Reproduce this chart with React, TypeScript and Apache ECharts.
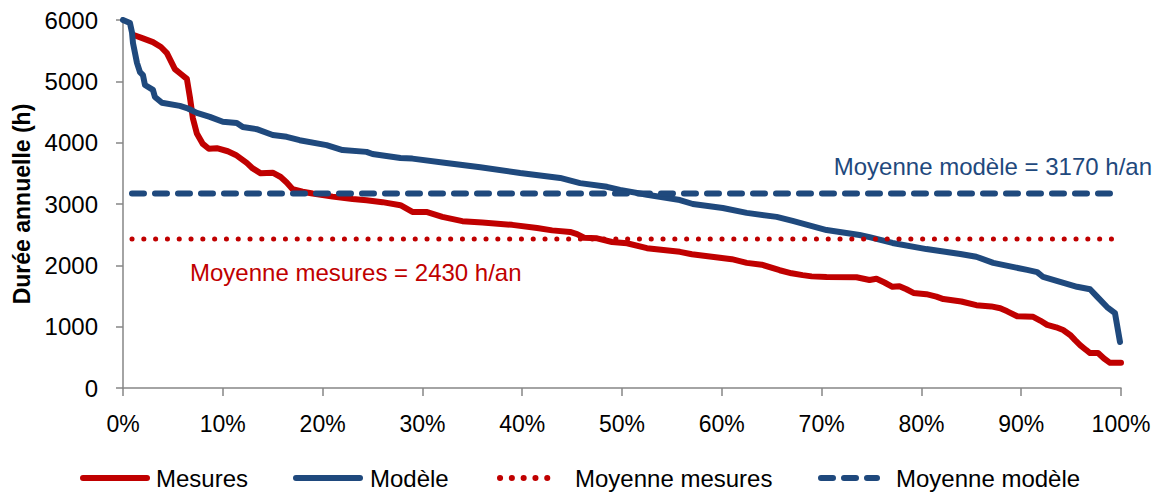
import React, { useEffect, useRef } from "react";
import * as echarts from "echarts";

const FONT = "Liberation Sans";
const RED = "#C00000";
const BLUE = "#1F497D";

const xTicks = [0, 10, 20, 30, 40, 50, 60, 70, 80, 90, 100];

const mesuresX = [1, 2, 3, 3.8, 4.4, 5.2, 5.8, 6.4, 6.7, 7.0, 7.4, 8.0, 8.6, 9.4, 10.5, 11.3, 12.4, 13.0, 13.8, 15, 15.8, 16.4, 17.0, 18.0, 19, 21, 23, 24.4, 26, 27.8, 29, 30.4, 32, 34, 36, 39, 41.5, 43, 44.8, 45.5, 46.2, 47.5, 49, 50.5, 52.5, 55.8, 57, 59, 61, 62.5, 64, 65.8, 67, 68.1, 69, 70.5, 73.5, 74.8, 75.5, 76.3, 77.1, 77.8, 78.5, 79.2, 80.5, 81.5, 82.2, 84, 85.5, 87, 87.9, 88.6, 89.6, 91.2, 91.9, 92.6, 93.5, 94.2, 94.9, 95.4, 95.9, 96.5, 96.9, 97.7, 98.3, 98.9, 100];
const mesuresY = [5760, 5700, 5640, 5560, 5460, 5200, 5120, 5040, 4745, 4400, 4150, 3980, 3900, 3910, 3860, 3800, 3670, 3580, 3500, 3510, 3440, 3350, 3240, 3200, 3170, 3120, 3080, 3060, 3030, 2980, 2870, 2870, 2790, 2720, 2700, 2660, 2610, 2570, 2545, 2510, 2450, 2440, 2380, 2360, 2280, 2220, 2180, 2140, 2100, 2040, 2010, 1920, 1870, 1840, 1820, 1810, 1805, 1760, 1780, 1720, 1650, 1660, 1610, 1550, 1530, 1490, 1450, 1410, 1350, 1330, 1300, 1250, 1170, 1160, 1100, 1030, 990, 945, 865, 780, 700, 620, 570, 570, 480, 410, 410];

const modeleX = [0, 0.7, 0.9, 1.0, 1.4, 1.7, 2.0, 2.2, 3.0, 3.2, 3.9, 5.7, 6.4, 7.4, 8.7, 10, 11.4, 12, 13.4, 15, 16.4, 17.7, 20.4, 22, 24.4, 25, 27.8, 29, 32.4, 35.8, 39.8, 43.8, 45.8, 48.5, 49.8, 52.5, 55.8, 57.1, 60.1, 62.5, 65.5, 67.1, 70.5, 73.8, 74.8, 77.1, 80.5, 83.9, 85.5, 87.2, 90.6, 91.6, 92.2, 93.9, 95.6, 96.9, 97.6, 98.6, 99.4, 99.9];
const modeleY = [6000, 5950, 5800, 5625, 5300, 5150, 5100, 4940, 4860, 4745, 4650, 4600, 4565, 4485, 4420, 4340, 4320, 4255, 4220, 4125, 4095, 4040, 3960, 3880, 3850, 3815, 3750, 3740, 3670, 3600, 3505, 3425, 3340, 3280, 3230, 3150, 3065, 3000, 2935, 2855, 2790, 2725, 2575, 2495, 2460, 2365, 2265, 2185, 2140, 2040, 1925, 1890, 1810, 1730, 1650, 1610, 1490, 1320, 1220, 750];

const avgX = [0.9, 99.3];
const moyenneMesures = 2430;
const moyenneModele = 3170;

const zip = (xs: number[], ys: number[]) => xs.map((x, i) => [x, ys[i]]);

export default function App() {
  const ref = useRef<HTMLDivElement>(null);
  useEffect(() => {
    if (!ref.current) return;
    const chart = echarts.init(ref.current, undefined, { renderer: "svg" });
    const legendText = (pad: number) => ({
      fontFamily: FONT,
      fontSize: 24,
      lineHeight: 24,
      color: "#000",
      padding: [0, 0, 0, pad],
    });
    const legendBase = {
      orient: "horizontal" as const,
      top: 466,
      itemHeight: 12,
      itemGap: 0,
      padding: 0,
      itemStyle: { opacity: 0 },
      lineStyle: { width: 6, cap: "round" },
    };
    chart.setOption({
      animation: false,
      textStyle: { fontFamily: FONT },
      grid: { left: 123, right: 40, top: 20, bottom: 104, containLabel: false, outerBoundsMode: "none" },
      xAxis: {
        type: "value",
        min: 0,
        max: 100,
        interval: 10,
        axisLine: { show: true, lineStyle: { color: "#868686", width: 1.5 } },
        axisTick: { show: true, length: 8, lineStyle: { color: "#868686", width: 1.5 } },
        splitLine: { show: false },
        axisLabel: {
          formatter: "{value}%",
          fontFamily: FONT,
          fontSize: 23,
          color: "#000",
          margin: 24,
          customValues: xTicks,
        },
      },
      yAxis: {
        type: "value",
        min: 0,
        max: 6000,
        interval: 1000,
        name: "Durée annuelle (h)",
        nameLocation: "middle",
        nameGap: 90,
        nameTextStyle: { fontFamily: FONT, fontSize: 23, fontWeight: "bold", color: "#000" },
        axisLine: { show: true, lineStyle: { color: "#868686", width: 1.5 } },
        axisTick: { show: true, length: 7, lineStyle: { color: "#868686", width: 1.5 } },
        splitLine: { show: false },
        axisLabel: {
          fontFamily: FONT,
          fontSize: 24,
          color: "#000",
          margin: 25,
          formatter: (v: number) => String(v),
        },
      },
      legend: [
        { ...legendBase, left: 80, itemWidth: 64, data: ["Mesures"], textStyle: legendText(4) },
        { ...legendBase, left: 293, itemWidth: 64, data: ["Modèle"], textStyle: legendText(5) },
        { ...legendBase, left: 497, itemWidth: 58, data: ["Moyenne mesures"], textStyle: legendText(12) },
        { ...legendBase, left: 818, itemWidth: 56, data: ["Moyenne modèle"], textStyle: legendText(14) },
      ],
      graphic: [
        {
          type: "text",
          right: 9,
          top: 154,
          style: { text: "Moyenne modèle = 3170 h/an", fill: BLUE, fontFamily: FONT, fontSize: 24 },
        },
        {
          type: "text",
          left: 190,
          top: 260,
          style: { text: "Moyenne mesures = 2430 h/an", fill: RED, fontFamily: FONT, fontSize: 24 },
        },
      ],
      series: [
        {
          name: "Mesures",
          type: "line",
          data: zip(mesuresX, mesuresY),
          symbol: "none",
          lineStyle: { color: RED, width: 6, cap: "round", join: "round" },
          itemStyle: { color: RED },
        },
        {
          name: "Modèle",
          type: "line",
          data: zip(modeleX, modeleY),
          symbol: "none",
          lineStyle: { color: BLUE, width: 6, cap: "round", join: "round" },
          itemStyle: { color: BLUE },
        },
        {
          name: "Moyenne mesures",
          type: "line",
          data: avgX.map((x) => [x, moyenneMesures]),
          symbol: "none",
          lineStyle: { color: RED, width: 5, type: [0.1, 11.7], cap: "round" },
          itemStyle: { color: RED },
        },
        {
          name: "Moyenne modèle",
          type: "line",
          data: avgX.map((x) => [x, moyenneModele]),
          symbol: "none",
          lineStyle: { color: BLUE, width: 6, type: [12, 11], cap: "round" },
          itemStyle: { color: BLUE },
        },
      ],
    });
    return () => chart.dispose();
  }, []);
  return <div ref={ref} style={{ width: 1161, height: 492, position: "absolute", left: 0, top: 0 }} />;
}
